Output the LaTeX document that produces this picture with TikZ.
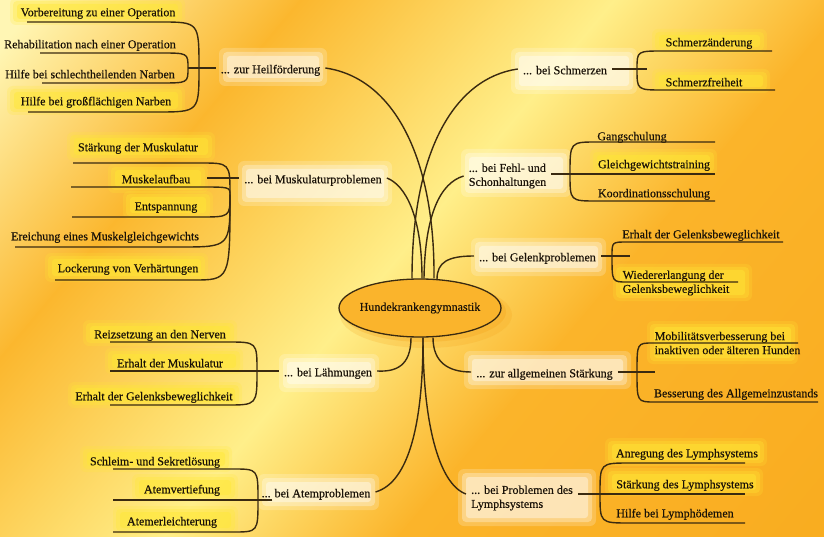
\documentclass[tikz,border=0pt]{standalone}
\usepackage{fontspec}
\setmainfont{Liberation Serif}[FakeBold=0.4]
\usetikzlibrary{shapes.geometric,calc}
\definecolor{bgA}{HTML}{FFF6B4}
\definecolor{bgB}{HTML}{FBB72E}
\definecolor{bgC}{HTML}{FFEF8A}
\definecolor{bgD}{HTML}{FBB42A}
\definecolor{bgE}{HTML}{F9AC1F}
\definecolor{ln}{HTML}{3A2A10}
\definecolor{txt}{HTML}{1A1208}
\definecolor{hly}{HTML}{FFE835}
\definecolor{ellf}{HTML}{FAB42C}
\definecolor{shad}{HTML}{F39A0E}
\newcommand\hlbox[4]{%
  \fill[hly, opacity=.2, rounded corners=6pt] (#1-5,#2-4) rectangle (#3+5,#4+4);
  \fill[hly, opacity=.3, rounded corners=4pt] (#1-2,#2-1) rectangle (#3+2,#4+1);
  \fill[hly, opacity=.45, rounded corners=3pt] (#1+2,#2+2) rectangle (#3-2,#4-2);
}
\newcommand\catbox[4]{%
  \fill[white, opacity=.2, rounded corners=6pt] (#1-4,#2-4) rectangle (#3+4,#4+4);
  \fill[white, opacity=.3, rounded corners=4pt] (#1,#2) rectangle (#3,#4);
  \fill[white, opacity=.4, rounded corners=3pt] (#1+4,#2+4) rectangle (#3-4,#4-4);
}
\tikzset{
  con/.style={draw=ln, line width=1.4pt},
  leaf/.style={font=\fontsize{12}{14}\selectfont, text=txt, inner sep=1pt, text height=13pt, text depth=2.5pt},
  leaftwo/.style={font=\fontsize{12}{14}\selectfont, text=txt, inner sep=1pt, align=left},
  cat/.style={font=\fontsize{12}{14}\selectfont, text=txt, inner xsep=5pt, inner ysep=1pt, text height=13pt, text depth=2.5pt},
  cattwo/.style={font=\fontsize{12}{14}\selectfont, text=txt, inner xsep=5pt, inner ysep=1pt, align=left},
  central/.style={ellipse, draw=ln, line width=1.3pt, fill=ellf, minimum width=162pt, minimum height=58pt, inner xsep=-10pt, inner ysep=0pt, font=\fontsize{12}{14}\selectfont, text=txt},
}
\begin{document}
\begin{tikzpicture}[x=1pt,y=-1pt]
\useasboundingbox (0,0) rectangle (824,537);
% background
\begin{scope}
\clip (0,0) rectangle (824,537);
\fill[bgE] (0,0) rectangle (824,537);
\begin{scope}[transform canvas={rotate=-40}]
\fill[bgA] (-400,-1200) rectangle (31,1200);
\shade[left color=bgA, right color=bgB] (30,-1200) rectangle (231,1200);
\shade[left color=bgB, right color=bgC] (230,-1200) rectangle (471,1200);
\shade[left color=bgC, right color=bgD] (470,-1200) rectangle (651,1200);
\shade[left color=bgD, right color=bgE] (650,-1200) rectangle (1000,1200);
\end{scope}
\end{scope}

% category boxes
\catbox{223}{52}{323}{82}
\catbox{515}{52}{633}{90}
\catbox{242}{165}{388}{202}
\catbox{465}{153}{567}{193}
\catbox{475}{242}{602}{272}
\catbox{468}{355}{627}{385}
\catbox{462}{473}{592}{522}
\catbox{283}{358}{375}{388}
\catbox{262}{478}{375}{506}

% leaf highlights
\hlbox{15}{2}{180}{21}
\hlbox{12}{90}{180}{111}
\hlbox{72}{136}{210}{157}
\hlbox{113}{168}{203}{189}
\hlbox{128}{195}{208}{215}
\hlbox{50}{257}{203}{278}
\hlbox{657}{33}{762}{49}
\hlbox{657}{73}{765}{89}
\hlbox{595}{153}{712}{171}
\hlbox{618}{268}{747}{297}
\hlbox{652}{325}{793}{360}
\hlbox{610}{442}{762}{462}
\hlbox{610}{472}{758}{492}
\hlbox{88}{324}{232}{342}
\hlbox{110}{352}{238}{370}
\hlbox{73}{386}{237}{404}
\hlbox{85}{450}{227}{468}
\hlbox{137}{478}{233}{497}
\hlbox{118}{510}{233}{530}

% ellipse shadow
\fill[shad, opacity=.18] (426,315) ellipse [x radius=86, y radius=33];
\fill[shad, opacity=.25] (424,312) ellipse [x radius=82, y radius=30];

% central node
\node[central] (c) at (420,308) {Hundekrankengymnastik};

% category nodes
\node[cat] (heil) at (270.5,68) {... zur Heilförderung};
\node[cat] (schm) at (565,69) {... bei Schmerzen};
\node[cat] (musk) at (313,178) {... bei Muskulaturproblemen};
\node[cattwo] (fehl) at (507.5,176) {... bei Fehl- und\\Schonhaltungen};
\node[cat] (gel) at (537.5,256) {... bei Gelenkproblemen};
\node[cat] (allg) at (544.5,372) {... zur allgemeinen Stärkung};
\node[cattwo] (lymph) at (522,498) {... bei Problemen des\\Lymphsystems};
\node[cat] (laehm) at (328,371) {... bei Lähmungen};
\node[cat] (atem) at (316,492) {... bei Atemproblemen};

% leaves
\node[leaf] (a1) at (98,11) {Vorbereitung zu einer Operation};
\node[leaf] (a2) at (90,43) {Rehabilitation nach einer Operation};
\node[leaf] (a3) at (90,73) {Hilfe bei schlechtheilenden Narben};
\node[leaf] (a4) at (96,100) {Hilfe bei großflächigen Narben};
\node[leaf] (b1) at (709,41) {Schmerzänderung};
\node[leaf] (b2) at (704,81) {Schmerzfreiheit};
\node[leaf] (c1) at (632,135) {Gangschulung};
\node[leaf] (c2) at (654,163) {Gleichgewichtstraining};
\node[leaf] (c3) at (654,192) {Koordinationsschulung};
\node[leaf] (d1) at (701,233) {Erhalt der Gelenksbeweglichkeit};
\node[leaftwo] (d2) at (676,283) {Wiedererlangung der\\Gelenksbeweglichkeit};
\node[leaftwo] (e1) at (727.5,343) {Mobilitätsverbesserung bei\\inaktiven oder älteren Hunden};
\node[leaf] (e2) at (736,392) {Besserung des Allgemeinzustands};
\node[leaf] (f1) at (687,452) {Anregung des Lymphsystems};
\node[leaf] (f2) at (685,483) {Stärkung des Lymphsystems};
\node[leaf] (f3) at (675,512) {Hilfe bei Lymphödemen};
\node[leaf] (g1) at (138,146) {Stärkung der Muskulatur};
\node[leaf] (g2) at (156,178) {Muskelaufbau};
\node[leaf] (g3) at (166,205) {Entspannung};
\node[leaf] (g4) at (105,235) {Ereichung eines Muskelgleichgewichts};
\node[leaf] (g5) at (128,267) {Lockerung von Verhärtungen};
\node[leaf] (h1) at (160,333) {Reizsetzung an den Nerven};
\node[leaf] (h2) at (170,362) {Erhalt der Muskulatur};
\node[leaf] (h3) at (154,395) {Erhalt der Gelenksbeweglichkeit};
\node[leaf] (i1) at (155,460) {Schleim- und Sekretlösung};
\node[leaf] (i2) at (182,488) {Atemvertiefung};
\node[leaf] (i3) at (172,520) {Atemerleichterung};

% connectors to the centre
\draw[con] (heil.east) .. controls (395,78) and (435,160) .. ($(c.north)+(14,0)$);
\draw[con] (schm.west) .. controls (455,78) and (412,150) .. ($(c.north)+(-8,0)$);
\draw[con] (musk.east) .. controls (405,185) and (422,215) .. ($(c.north)+(2,0)$);
\draw[con] (fehl.west) .. controls (440,183) and (425,215) .. ($(c.north)+(4,0)$);
\draw[con] (gel.west) .. controls (448,256) and (437,262) .. ($(c.north)+(17,1)$);
\draw[con] ($(c.south)+(-9,0)$) .. controls (411,366) and (396,372) .. (laehm.east);
\draw[con] ($(c.south)+(13,0)$) .. controls (433,362) and (448,372) .. (allg.west);
\draw[con] ($(c.south)+(3,0)$) .. controls (423,420) and (410,482) .. (atem.east);
\draw[con] ($(c.south)+(3,0)$) .. controls (423,420) and (438,484) .. ($(lymph.west)+(0,-4)$);

% group A
\coordinate (hA) at (188,68); \coordinate (hAo) at (199,68);
\coordinate (a1s) at (160,22); \coordinate (a1e) at (27,22);
\coordinate (a2s) at (160,53); \coordinate (a2e) at (40,53);
\coordinate (a3s) at (160,83); \coordinate (a3e) at (42,83);
\coordinate (a4s) at (157,112); \coordinate (a4e) at (28,112);
\draw[con] (heil.west) -- (hA);
\draw[con] (hAo) .. controls (hAo |- a1s) .. (a1s) -- (a1e);
\draw[con] (hA) .. controls (hA |- a2s) .. (a2s) -- (a2e);
\draw[con] (hA) .. controls (hA |- a3s) .. (a3s) -- (a3e);
\draw[con] (hAo) .. controls (hAo |- a4s) .. (a4s) -- (a4e);

% group B
\coordinate (hB) at (637,69); \coordinate (hBt) at (647,69);
\coordinate (b1s) at (663,51); \coordinate (b1e) at (772,51);
\coordinate (b2s) at (663,90); \coordinate (b2e) at (775,90);
\draw[con] (schm.east) -- (hBt);
\draw[con] (hB) .. controls (hB |- b1s) .. (b1s) -- (b1e);
\draw[con] (hB) .. controls (hB |- b2s) .. (b2s) -- (b2e);

% group C
\coordinate (hC) at (570,174);
\coordinate (c1s) at (597,142); \coordinate (c1e) at (715,142);
\coordinate (c2e) at (715,174);
\coordinate (c3s) at (597,201); \coordinate (c3e) at (715,201);
\draw[con] (fehl.east |- c2e) -- (c2e);
\draw[con] (hC) .. controls (hC |- c1s) .. (c1s) -- (c1e);
\draw[con] (hC) .. controls (hC |- c3s) .. (c3s) -- (c3e);

% group D
\coordinate (hD) at (612,256); \coordinate (hDt) at (630,256);
\coordinate (d1s) at (627,242); \coordinate (d1e) at (783,242);
\coordinate (d2s) at (627,282); \coordinate (d2e) at (738,282);
\draw[con] (gel.east) -- (hDt);
\draw[con] (hD) .. controls (hD |- d1s) .. (d1s) -- (d1e);
\draw[con] (hD) .. controls (hD |- d2s) .. (d2s) -- (d2e);

% group E
\coordinate (hE) at (637,372); \coordinate (hEt) at (655,372);
\coordinate (e1s) at (653,343); \coordinate (e1e) at (798,343);
\coordinate (e2s) at (655,402); \coordinate (e2e) at (818,402);
\draw[con] (allg.east) -- (hEt);
\draw[con] (hE) .. controls (hE |- e1s) .. (e1s) -- (e1e);
\draw[con] (hE) .. controls (hE |- e2s) .. (e2s) -- (e2e);

% group F
\coordinate (hF) at (600,494);
\coordinate (f1s) at (630,463); \coordinate (f1e) at (745,463);
\coordinate (f2e) at (745,494);
\coordinate (f3s) at (630,523); \coordinate (f3e) at (745,523);
\draw[con] (lymph.east |- f2e) -- (f2e);
\draw[con] (hF) .. controls (hF |- f1s) .. (f1s) -- (f1e);
\draw[con] (hF) .. controls (hF |- f3s) .. (f3s) -- (f3e);

% group G
\coordinate (hG) at (230,195); \coordinate (gT) at (207,178);
\coordinate (g1s) at (200,163); \coordinate (g1e) at (73,163);
\coordinate (g2s) at (200,187); \coordinate (g2e) at (71,187);
\coordinate (g3s) at (200,217); \coordinate (g3e) at (72,217);
\coordinate (g4s) at (180,247); \coordinate (g4e) at (15,247);
\coordinate (g5s) at (193,280); \coordinate (g5e) at (55,280);
\draw[con] (musk.west) -- (gT);
\draw[con] (hG) .. controls (hG |- g1s) .. (g1s) -- (g1e);
\draw[con] (hG) .. controls (hG |- g2s) .. (g2s) -- (g2e);
\draw[con] (hG) .. controls (hG |- g3s) .. (g3s) -- (g3e);
\draw[con] (hG) .. controls (hG |- g4s) .. (g4s) -- (g4e);
\draw[con] (hG) .. controls (hG |- g5s) .. (g5s) -- (g5e);

% group H
\coordinate (hH) at (257,371);
\coordinate (h1s) at (227,342); \coordinate (h1e) at (110,342);
\coordinate (h2e) at (110,371);
\coordinate (h3s) at (227,405); \coordinate (h3e) at (110,405);
\draw[con] (laehm.west) -- (h2e);
\draw[con] (hH) .. controls (hH |- h1s) .. (h1s) -- (h1e);
\draw[con] (hH) .. controls (hH |- h3s) .. (h3s) -- (h3e);

% group I
\coordinate (hI) at (258,500);
\coordinate (i1s) at (233,469); \coordinate (i1e) at (113,469);
\coordinate (i2e) at (113,500);
\coordinate (i3s) at (233,532); \coordinate (i3e) at (113,532);
\draw[con] ($(atem.west)+(16,8)$) -- (i2e);
\draw[con] (hI) .. controls (hI |- i1s) .. (i1s) -- (i1e);
\draw[con] (hI) .. controls (hI |- i3s) .. (i3s) -- (i3e);
\end{tikzpicture}
\end{document}
